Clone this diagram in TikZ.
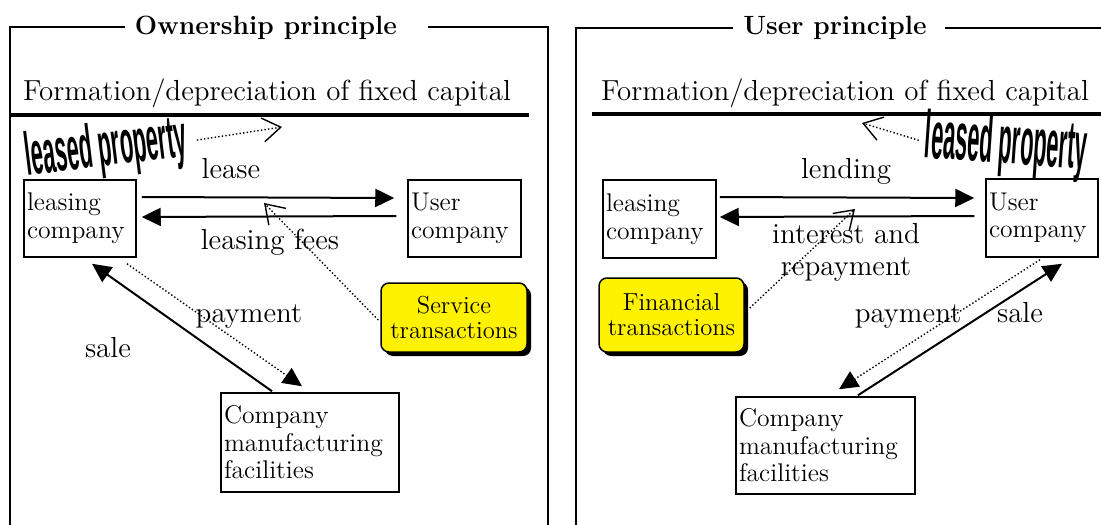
\documentclass[tikz,border=0pt]{standalone}
\usepackage{fontspec}
\newfontfamily\lpfont{Liberation Sans}
\usetikzlibrary{arrows.meta,shadows}
\begin{document}
\begin{tikzpicture}[x=0.5pt,y=-0.5pt,
  box/.style={draw, line width=0.75pt, align=left, inner xsep=1.5pt, inner ysep=0pt, font=\fontsize{12.8}{13.8}\selectfont},
  ybox/.style={draw, fill=yellow, rounded corners=4pt, line width=0.75pt, align=center, inner sep=0pt,
     font=\fontsize{12.3}{12.5}\selectfont, drop shadow={shadow xshift=2pt, shadow yshift=-2pt, fill=black, opacity=1}},
  lbl/.style={font=\fontsize{14.5}{17}\selectfont, anchor=base, inner sep=0pt},
  ttl/.style={font=\fontsize{13.2}{15}\selectfont\bfseries, anchor=base, inner sep=0pt},
  lprop/.style={font=\lpfont\bfseries\fontsize{16}{16}\selectfont, inner sep=0pt},
  conn/.style={line width=1pt},
  dots/.style={line width=0.7pt, dash pattern=on 0.7pt off 1.1pt},
  tri/.style={-{Triangle[length=9.5pt,width=9pt]}},
  vee/.style={-{Straight Barb[length=9pt,width=12pt,line width=0.7pt]}},
  frame/.style={line width=0.8pt}
]
\clip (0,0) rectangle (1101,524);
% ---------- left panel ----------
\node[ttl] (tl) at (266,35) {Ownership principle};
\draw[frame] (125,27) -- (10,27) -- (10,530);
\draw[frame] (428,27) -- (548,27) -- (548,530);
\node[lbl] (fl) at (267,100) {Formation/depreciation of fixed capital};
\draw[line width=1.75pt] (10,115) -- (529,115);
\node[lprop, rotate=7] (lp) at (106,150) {\scalebox{0.68}[1.9]{leased property}};
\node[box, minimum width=56pt, minimum height=38.5pt, text width=53pt] (lc) at (80,218.5) {leasing\\company};
\node[box, minimum width=56.5pt, minimum height=38.5pt, text width=53.5pt] (uc) at (464.5,218.5) {User\\company};
\node[box, minimum width=89pt, minimum height=49.5pt, text width=86pt] (cm) at (310,442.5) {Company\\manufacturing\\facilities};
\node[ybox, minimum width=73pt, minimum height=34.5pt] (st) at (454,317.5) {Service\\transactions};
\node[lbl] (lease) at (231,178) {lease};
\node[lbl] (fees) at (270,249) {leasing fees};
\node[lbl] (pay) at (249,322) {payment};
\node[lbl] (sale) at (108,357) {sale};
\coordinate (v0) at (282,127);
\coordinate (v1) at (264,203);
\draw[dots,vee] ([xshift=5pt]lp.east) -- (v0);
\draw[conn,tri] ([xshift=2.5pt,yshift=10.75pt]lc.east) -- ([xshift=-6.5pt,yshift=10.25pt]uc.west);
\draw[conn,tri] ([xshift=-5.5pt,yshift=1.25pt]uc.west) -- ([xshift=2.5pt,yshift=0.75pt]lc.east);
\draw[conn,tri] ([xshift=-19pt,yshift=0.5pt]cm.north) -- ([xshift=6pt,yshift=-3pt]lc.south);
\draw[dots,tri] ([xshift=23.5pt,yshift=-3pt]lc.south) -- ([xshift=-4pt,yshift=3pt]cm.north);
\draw[dots,vee] ([xshift=-1pt,yshift=-1.25pt]st.west) -- (v1);
% ---------- right panel ----------
\node[ttl] (tr) at (835,35) {User principle};
\draw[frame] (733,28) -- (576,28) -- (576,530);
\draw[frame] (945,28) -- (1105,28);
\node[lbl] (fr) at (845,100) {Formation/depreciation of fixed capital};
\draw[line width=1.75pt] (592,114) -- (1105,114);
\node[lprop, rotate=-4] (lp2) at (1006,146) {\scalebox{0.68}[2.1]{leased property}};
\node[box, minimum width=56.5pt, minimum height=39pt, text width=53.5pt] (lc2) at (659.5,219) {leasing\\company};
\node[box, minimum width=56pt, minimum height=39pt, text width=53pt] (uc2) at (1042,218) {User\\company};
\node[box, minimum width=89.5pt, minimum height=48.5pt, text width=86.5pt] (cm2) at (825.5,445.5) {Company\\manufacturing\\facilities};
\node[ybox, minimum width=72.5pt, minimum height=37pt] (ft) at (671.5,315) {Financial\\transactions};
\node[lbl] (lend) at (846,178) {lending};
\node[lbl] (int) at (846,243) {interest and};
\node[lbl] (rep) at (846,275) {repayment};
\node[lbl] (pay2) at (908,322) {payment};
\node[lbl] (sale2) at (1020,322) {sale};
\coordinate (v2) at (862,123);
\coordinate (v3) at (855,209);
\draw[dots,vee] ([xshift=-3pt]lp2.west) -- (v2);
\draw[conn,tri] ([xshift=1.5pt,yshift=11pt]lc2.east) -- ([xshift=-5.5pt,yshift=10pt]uc2.west);
\draw[conn,tri] ([xshift=-5.5pt,yshift=1pt]uc2.west) -- ([xshift=1.5pt,yshift=1pt]lc2.east);
\draw[conn,tri] ([xshift=16.25pt,yshift=0.5pt]cm2.north) -- ([xshift=10pt,yshift=-3pt]uc2.south);
\draw[dots,tri] ([xshift=-1pt,yshift=-1pt]uc2.south) -- ([xshift=6.75pt,yshift=3.5pt]cm2.north);
\draw[dots,vee] ([xshift=2.5pt,yshift=3.5pt]ft.east) -- (v3);
\end{tikzpicture}
\end{document}
